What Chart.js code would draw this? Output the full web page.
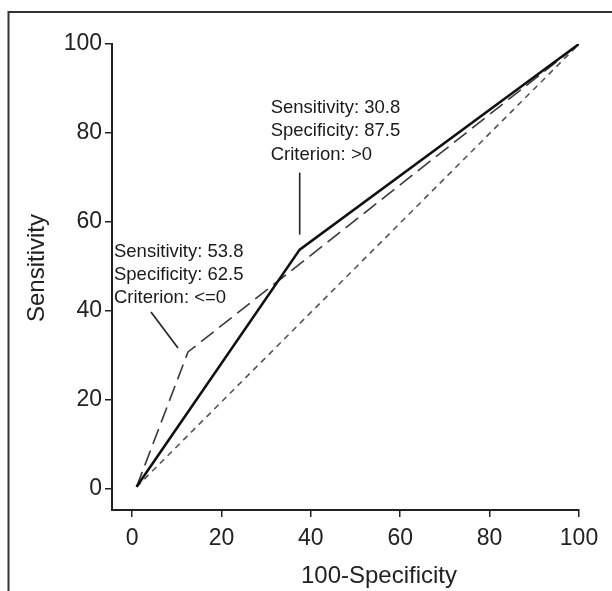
<!DOCTYPE html>
<html>
<head>
<meta charset="utf-8">
<script src="https://cdn.jsdelivr.net/npm/chart.js@4/dist/chart.umd.min.js"></script>
<style>
  html, body { margin: 0; padding: 0; background: #ffffff; }
  #c { display: block; }
</style>
</head>
<body>
<canvas id="c" width="612" height="591"></canvas>
<script>
// ---- data ----
const xTicks = [0, 20, 40, 60, 80, 100];
const yTicks = [0, 20, 40, 60, 80, 100];

const solidX = [1, 37.5, 100];      // solid ROC curve
const solidY = [0.5, 53.8, 100];
const dashX  = [1, 12.5, 100];      // long-dash ROC curve
const dashY  = [0.5, 30.8, 100];
const refX   = [1, 100];            // reference diagonal
const refY   = [0.5, 100];

const xTitle = '100-Specificity';
const yTitle = 'Sensitivity';

const labelTop = ['Sensitivity: 30.8', 'Specificity: 87.5', 'Criterion: >0'];
const labelLow = ['Sensitivity: 53.8', 'Specificity: 62.5', 'Criterion: <=0'];

const toPts = (xs, ys) => xs.map((x, i) => ({ x: x, y: ys[i] }));

const FONT = '"Liberation Sans", Arial, sans-serif';

// annotations attached to dataset points (style offsets only)
const annotations = [
  { ds: 0, idx: 1, lines: labelTop, lead: [[0, -15], [0, -77]], tx: -29, ty: [-142, -119, -95] },
  { ds: 1, idx: 1, lines: labelLow, lead: [[-10, -4], [-37, -40]], tx: -74, ty: [-100, -77, -54] }
];

const decor = {
  id: 'decor',
  beforeDraw(chart) {
    const ctx = chart.ctx;
    ctx.save();
    ctx.fillStyle = '#ffffff';
    ctx.fillRect(0, 0, chart.width, chart.height);
    ctx.strokeStyle = '#333333';
    ctx.lineWidth = 2;
    ctx.beginPath();
    ctx.moveTo(8.5, 591);
    ctx.lineTo(8.5, 12);
    ctx.lineTo(612, 12);
    ctx.stroke();
    ctx.restore();
  },
  afterDraw(chart) {
    const ctx = chart.ctx;
    ctx.save();
    // axis titles
    ctx.fillStyle = '#222222';
    ctx.font = '24px ' + FONT;
    ctx.textAlign = 'center';
    ctx.textBaseline = 'middle';
    ctx.fillText(xTitle, 379, 576);
    ctx.save();
    ctx.translate(37, 268);
    ctx.rotate(-Math.PI / 2);
    ctx.fillText(yTitle, 0, 0);
    ctx.restore();
    // annotations
    ctx.font = '18.5px ' + FONT;
    ctx.textAlign = 'left';
    ctx.textBaseline = 'middle';
    ctx.fillStyle = '#1a1a1a';
    ctx.strokeStyle = '#222222';
    ctx.lineWidth = 1.6;
    annotations.forEach(a => {
      const el = chart.getDatasetMeta(a.ds).data[a.idx];
      const px = el.x, py = el.y;
      ctx.beginPath();
      ctx.moveTo(px + a.lead[0][0], py + a.lead[0][1]);
      ctx.lineTo(px + a.lead[1][0], py + a.lead[1][1]);
      ctx.stroke();
      a.lines.forEach((t, i) => ctx.fillText(t, px + a.tx, py + a.ty[i]));
    });
    ctx.restore();
  }
};

const axisCommon = {
  type: 'linear',
  grid: { display: true, drawOnChartArea: false, drawTicks: true, tickLength: 7, color: '#222222', lineWidth: 1.5 },
  border: { display: true, color: '#222222', width: 2 },
  title: { display: false }
};

new Chart(document.getElementById('c'), {
  type: 'scatter',
  data: {
    datasets: [
      { data: toPts(solidX, solidY), showLine: true, borderColor: '#111111', borderWidth: 2.6, pointRadius: 0, fill: false },
      { data: toPts(dashX, dashY), showLine: true, borderColor: '#3a3a3a', borderWidth: 1.6, borderDash: [16, 7], pointRadius: 0, fill: false },
      { data: toPts(refX, refY), showLine: true, borderColor: '#555555', borderWidth: 1.6, borderDash: [6, 5], pointRadius: 0, fill: false }
    ]
  },
  options: {
    responsive: false,
    animation: false,
    devicePixelRatio: 1,
    layout: { padding: { left: 0, top: 44, right: 33, bottom: 0 } },
    plugins: { legend: { display: false }, tooltip: { enabled: false } },
    scales: {
      x: Object.assign({}, axisCommon, {
        min: -4.5, max: 100,
        afterBuildTicks: s => { s.ticks = xTicks.map(v => ({ value: v })); },
        afterFit: s => { s.height = 81; },
        ticks: { color: '#222222', font: { family: FONT, size: 23 }, padding: 8, maxRotation: 0, autoSkip: false }
      }),
      y: Object.assign({}, axisCommon, {
        min: -4.7, max: 100,
        afterBuildTicks: s => { s.ticks = yTicks.map(v => ({ value: v })); },
        afterFit: s => { s.width = 112; },
        ticks: { color: '#222222', font: { family: FONT, size: 23 }, padding: 3, autoSkip: false }
      })
    }
  },
  plugins: [decor]
});
</script>
</body>
</html>
